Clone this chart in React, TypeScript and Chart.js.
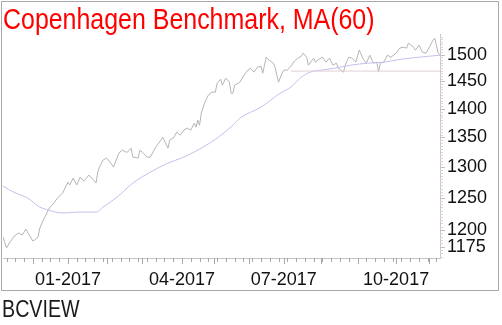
import React, { useEffect, useRef } from "react";
import { Chart, registerables } from "chart.js";

Chart.register(...registerables);

// Trading-day index (0 = mid Nov 2016) and closing values
const priceDay = [0, 2, 4, 7, 9, 11, 13, 14, 17, 18, 20, 21, 23, 25, 26, 29, 31, 34, 37, 38, 40, 42, 44, 46, 49, 51, 53, 54, 55, 57, 59, 61, 63, 66, 68, 70, 71, 73, 74, 77, 78, 80, 82, 84, 87, 90, 91, 94, 95, 97, 99, 101, 103, 105, 107, 109, 110, 111, 112, 113, 115, 117, 119, 121, 122, 124, 125, 127, 129, 130, 131, 132, 134, 135, 137, 139, 141, 143, 145, 147, 148, 149, 150, 151, 154, 155, 157, 159, 160, 162, 164, 166, 168, 170, 171, 173, 174, 177, 178, 180, 182, 184, 186, 188, 190, 191, 194, 195, 197, 199, 201, 203, 205, 207, 209, 211, 213, 214, 215, 217, 219, 221, 224, 226, 228, 230, 231, 234, 235, 237, 239, 241, 243, 245, 246, 248, 249];
const priceValue = [1189.4, 1172.9, 1181.9, 1192.4, 1195.4, 1192.4, 1201.5, 1196.9, 1183.4, 1184.9, 1189.4, 1203.1, 1215.4, 1226.3, 1232.5, 1241.9, 1249.8, 1257.8, 1275.5, 1270.7, 1282.0, 1270.7, 1283.6, 1277.1, 1286.9, 1280.4, 1273.9, 1291.8, 1300.1, 1311.7, 1315.0, 1308.4, 1300.1, 1323.4, 1328.4, 1325.1, 1325.1, 1331.8, 1316.7, 1315.0, 1328.4, 1323.4, 1316.7, 1316.7, 1333.5, 1345.4, 1350.6, 1331.8, 1345.4, 1348.9, 1359.2, 1354.0, 1362.6, 1366.1, 1362.6, 1374.8, 1367.8, 1380.0, 1371.3, 1392.4, 1412.0, 1424.7, 1430.1, 1430.1, 1446.6, 1454.0, 1442.9, 1455.8, 1448.4, 1428.3, 1428.3, 1442.9, 1446.6, 1448.4, 1459.5, 1468.8, 1474.4, 1467.0, 1476.3, 1478.2, 1465.1, 1480.1, 1495.2, 1491.4, 1483.9, 1476.3, 1448.4, 1465.1, 1470.7, 1470.7, 1478.2, 1487.6, 1493.3, 1497.1, 1502.9, 1495.2, 1480.1, 1493.3, 1485.8, 1491.4, 1495.2, 1485.8, 1493.3, 1480.1, 1483.9, 1474.4, 1467.0, 1480.1, 1495.2, 1493.3, 1485.8, 1508.6, 1493.3, 1483.9, 1499.0, 1483.9, 1485.8, 1467.0, 1483.9, 1485.8, 1499.0, 1495.2, 1502.9, 1512.5, 1514.4, 1512.5, 1522.1, 1514.4, 1508.6, 1518.2, 1504.8, 1502.9, 1514.4, 1527.9, 1531.8, 1502.9, 1499.0];

// 60-day moving average
const maDay = [0, 6, 14, 21, 26, 30, 35, 42, 48, 53, 57, 65, 74, 84, 94, 103, 113, 122, 131, 135, 147, 158, 164, 170, 175, 181, 189, 198, 208, 217, 227, 237, 249];
const maValue = [1268.9, 1259.3, 1249.8, 1235.5, 1230.8, 1227.6, 1226.3, 1227.6, 1227.6, 1227.6, 1235.5, 1251.3, 1273.9, 1291.8, 1306.6, 1316.7, 1331.8, 1348.9, 1371.3, 1383.6, 1403.1, 1428.3, 1439.2, 1457.7, 1467.0, 1470.7, 1474.4, 1480.1, 1483.9, 1485.8, 1491.4, 1495.2, 1499.0];

// Horizontal level line
const levelDay = [164, 249];
const levelValue = [1469, 1469];

// Axis ticks
const monthStartDay = [17, 37, 59, 79, 102, 120, 140, 160, 181, 202, 224, 243];
const quarterDay = [37, 102, 160, 224];
const quarterLabel = ["01-2017", "04-2017", "07-2017", "10-2017"];
const yTickValues = [1175, 1200, 1250, 1300, 1350, 1400, 1450, 1500];

const Y_MIN = 1158;
const Y_MAX = 1540;
const DAY_MIN = 0;
const DAY_MAX = 249;

const tickPlugin = {
  id: "extraTicks",
  afterDraw(chart: any) {
    const ctx = chart.ctx;
    const xs = chart.scales.x;
    const ys = chart.scales.y;
    const area = chart.chartArea;
    ctx.save();
    ctx.lineWidth = 1;
    ctx.strokeStyle = "#a8a8a8";
    for (let d = 2; d <= DAY_MAX; d += 5) {
      const px = Math.round(xs.getPixelForValue(d)) + 0.5;
      ctx.beginPath();
      ctx.moveTo(px, area.bottom);
      ctx.lineTo(px, area.bottom + 4);
      ctx.stroke();
    }
    for (const d of monthStartDay) {
      const px = Math.round(xs.getPixelForValue(d)) + 0.5;
      ctx.beginPath();
      ctx.moveTo(px, area.bottom);
      ctx.lineTo(px, area.bottom + 6);
      ctx.stroke();
    }
    ctx.strokeStyle = "#e2cfd4";
    for (let v = 1160; v <= 1535; v += 5) {
      const py = Math.round(ys.getPixelForValue(v)) + 0.5;
      ctx.beginPath();
      ctx.moveTo(area.right, py);
      ctx.lineTo(area.right + 3, py);
      ctx.stroke();
    }
    ctx.strokeStyle = "#d0b8be";
    for (const v of yTickValues) {
      const py = Math.round(ys.getPixelForValue(v)) + 0.5;
      ctx.beginPath();
      ctx.moveTo(area.right, py);
      ctx.lineTo(area.right + 5, py);
      ctx.stroke();
    }
    ctx.restore();
  },
};

export default function App() {
  const ref = useRef<HTMLCanvasElement | null>(null);

  useEffect(() => {
    document.body.style.margin = "0";
    const canvas = ref.current;
    if (!canvas) return;
    const chart = new Chart(canvas, {
      type: "line",
      data: {
        datasets: [
          {
            label: "Level",
            data: levelDay.map((d, i) => ({ x: d, y: levelValue[i] })),
            borderColor: "#dfd0d4",
            borderWidth: 1,
            pointRadius: 0,
          },
          {
            label: "MA(60)",
            data: maDay.map((d, i) => ({ x: d, y: maValue[i] })),
            borderColor: "#c2c0ec",
            borderWidth: 1,
            pointRadius: 0,
            cubicInterpolationMode: "monotone",
          },
          {
            label: "Copenhagen Benchmark",
            data: priceDay.map((d, i) => ({ x: d, y: priceValue[i] })),
            borderColor: "#b9b2b4",
            borderWidth: 1,
            pointRadius: 0,
            tension: 0,
          },
        ],
      },
      options: {
        animation: false,
        responsive: false,
        devicePixelRatio: 1,
        layout: { padding: { top: 34, left: 3, right: 0, bottom: 37 } },
        plugins: {
          legend: { display: false },
          tooltip: { enabled: false },
          title: { display: false },
        },
        scales: {
          x: {
            type: "linear",
            min: DAY_MIN,
            max: DAY_MAX,
            afterBuildTicks: (s: any) => {
              s.ticks = quarterDay.map((v) => ({ value: v }));
            },
            afterFit: (s: any) => {
              s.height = 30;
            },
            ticks: {
              autoSkip: false,
              maxRotation: 0,
              padding: 11,
              color: "#111",
              font: { family: "'Liberation Sans', Arial, sans-serif", size: 18 },
              callback: (v: any) => {
                const i = quarterDay.indexOf(Number(v));
                return i >= 0 ? quarterLabel[i] : "";
              },
            },
            grid: { drawOnChartArea: false, drawTicks: false },
            border: { color: "#c4c4c4" },
          },
          y: {
            type: "logarithmic",
            position: "right",
            min: Y_MIN,
            max: Y_MAX,
            afterBuildTicks: (s: any) => {
              s.ticks = yTickValues.map((v) => ({ value: v }));
            },
            afterFit: (s: any) => {
              s.width = 62;
            },
            ticks: {
              autoSkip: false,
              padding: 7,
              color: "#111",
              font: { family: "'Liberation Sans', Arial, sans-serif", size: 18 },
              callback: (v: any) => String(v),
            },
            grid: { drawOnChartArea: false, drawTicks: false },
            border: { color: "#c8c8c8" },
          },
        },
      },
      plugins: [tickPlugin],
    });
    return () => chart.destroy();
  }, []);

  return (
    <div style={{ position: "relative", width: 502, height: 325, background: "#fff", overflow: "hidden" }}>
      <div
        style={{
          position: "absolute",
          left: 1,
          top: 1,
          width: 496,
          height: 288,
          border: "1px solid #aaaaaa",
        }}
      />
      <canvas ref={ref} width={502} height={325} style={{ position: "absolute", left: 0, top: 0, width: 502, height: 325 }} />
      <div
        style={{
          position: "absolute",
          left: 3,
          top: 5,
          fontFamily: "'Liberation Sans', Arial, sans-serif",
          fontSize: 29,
          lineHeight: 1,
          color: "#ff0000",
          whiteSpace: "nowrap",
          transform: "scaleX(0.86)",
          transformOrigin: "0 0",
        }}
      >
        Copenhagen Benchmark, MA(60)
      </div>
      <div
        style={{
          position: "absolute",
          left: 2,
          top: 297,
          fontFamily: "'Liberation Sans', Arial, sans-serif",
          fontSize: 24,
          lineHeight: 1,
          color: "#1a1a1a",
          whiteSpace: "nowrap",
          transform: "scaleX(0.82)",
          transformOrigin: "0 0",
        }}
      >
        BCVIEW
      </div>
    </div>
  );
}
